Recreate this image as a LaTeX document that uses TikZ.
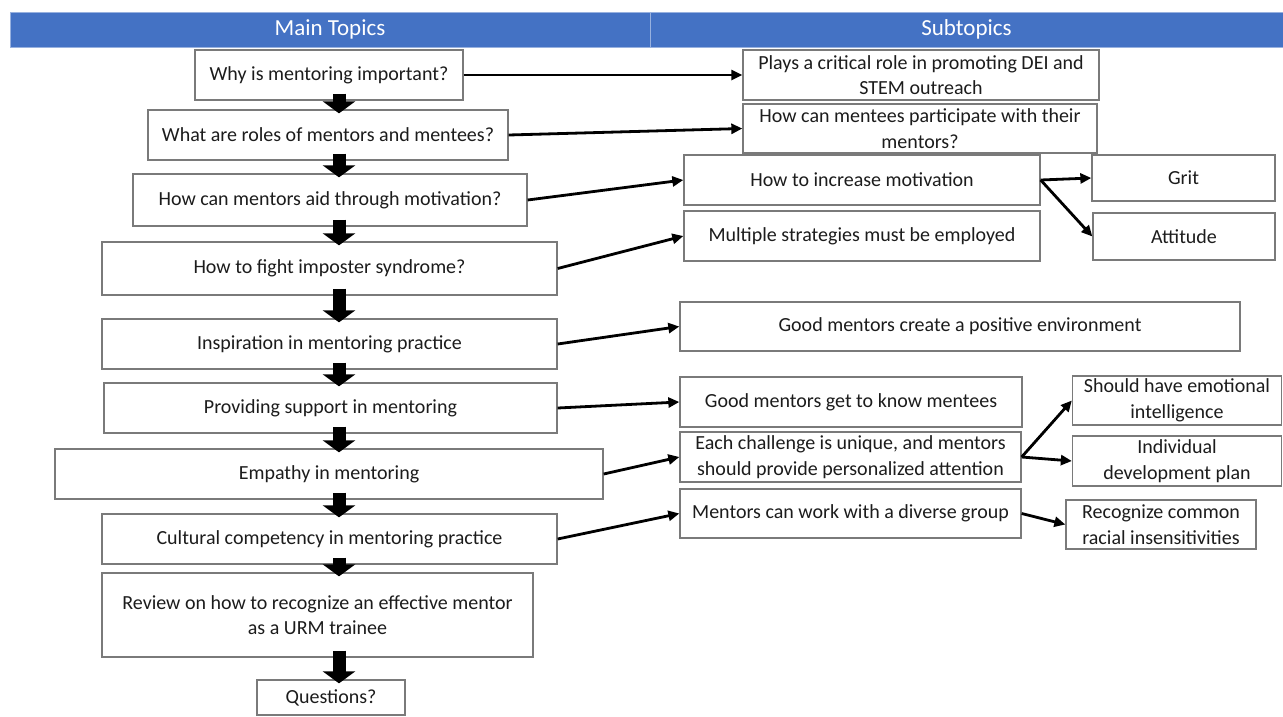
\documentclass[tikz,border=0pt]{standalone}
\usepackage{fontspec}
\setmainfont{Carlito}
\usetikzlibrary{arrows.meta}
\definecolor{hdrblue}{HTML}{4472C4}
\definecolor{boxgray}{HTML}{7A7A7A}
\definecolor{txt}{HTML}{1C1C1C}

\begin{document}
\begin{tikzpicture}[x=1pt,y=-1pt,
  topic/.style={draw=boxgray, line width=1.3pt, fill=white, text=txt, align=center, inner sep=0pt, font=\fontsize{20}{25.5}\selectfont},
  hdr/.style={fill=hdrblue, draw=hdrblue!55!white, line width=0.8pt, text=white, inner sep=0pt, minimum height=35pt, font=\fontsize{23}{26}\selectfont},
  down/.style={line width=13pt, -{Triangle[length=12pt,width=32pt]}},
  link/.style={line width=2.8pt, -{Triangle[length=11pt,width=10pt]}}]
\useasboundingbox (0,0) rectangle (1283,716);
\fill[white] (0,0) rectangle (1283,716);

% header bar
\node[hdr, minimum width=640pt] at (330,29.5) (hl) {Main Topics};
\node[hdr, minimum width=633pt] at (966.5,29.5) (hr) {Subtopics};

% main topics
\node[topic, minimum width=268pt, minimum height=50pt] at (329,75) (a1) {Why is mentoring important?};
\node[topic, minimum width=360pt, minimum height=50pt] at (328,135) (a2) {What are roles of mentors and mentees?};
\node[topic, minimum width=394pt, minimum height=52pt] at (330,200) (a3) {How can mentors aid through motivation?};
\node[topic, minimum width=455pt, minimum height=53pt] at (329.5,268.5) (a4) {How to fight imposter syndrome?};
\node[topic, minimum width=455pt, minimum height=50pt] at (329.5,344) (a5) {Inspiration in mentoring practice};
\node[topic, minimum width=453pt, minimum height=50pt] at (330.5,408) (a6) {Providing support in mentoring};
\node[topic, minimum width=548pt, minimum height=50pt] at (329,474) (a7) {Empathy in mentoring};
\node[topic, minimum width=455pt, minimum height=50pt] at (329.5,539) (a8) {Cultural competency in mentoring practice};
\node[topic, minimum width=431pt, minimum height=84pt] at (317.5,615) (a9) {Review on how to recognize an effective mentor\\as a URM trainee};
\node[topic, minimum width=148pt, minimum height=35pt] at (331,697.5) (a10) {Questions?};

% subtopics
\node[topic, minimum width=356pt, minimum height=50pt] at (921,75) (b1) {Plays a critical role in promoting DEI and\\STEM outreach};
\node[topic, minimum width=354pt, minimum height=49pt] at (920,128.5) (b2) {How can mentees participate with their\\mentors?};
\node[topic, minimum width=356pt, minimum height=50pt] at (862,180) (b3) {How to increase motivation};
\node[topic, minimum width=356pt, minimum height=50pt] at (862,236) (b4) {Multiple strategies must be employed};
\node[topic, minimum width=560pt, minimum height=49pt] at (960,326.5) (b5) {Good mentors create a positive environment};
\node[topic, minimum width=342pt, minimum height=50pt] at (851,402) (b6) {Good mentors get to know mentees};
\node[topic, minimum width=341pt, minimum height=50pt] at (850.5,457) (b7) {Each challenge is unique, and mentors\\should provide personalized attention};
\node[topic, minimum width=341pt, minimum height=49pt] at (850.5,513.5) (b8) {Mentors can work with a diverse group};

% sub-subtopics
\node[topic, minimum width=183pt, minimum height=46pt] at (1183.5,178) (c1) {Grit};
\node[topic, minimum width=182pt, minimum height=47pt] at (1184,236.5) (c2) {Attitude};
\node[topic, minimum width=209pt, minimum height=49pt] at (1177,400.5) (c3) {Should have emotional\\intelligence};
\node[topic, minimum width=209pt, minimum height=50pt] at (1177,461) (c4) {Individual\\development plan};
\node[topic, minimum width=190pt, minimum height=49pt] at (1161,524.5) (c5) {Recognize common\\racial insensitivities};

% block arrows down the main column
\coordinate (ax) at (339,0);
\foreach \u/\v in {a1/a2,a2/a3,a3/a4,a4/a5,a5/a6,a6/a7,a7/a8,a8/a9,a9/a10}
  \draw[down] ([yshift=7pt]\u.south -| ax) -- ([yshift=-4pt]\v.north -| ax);

\path[link]
(a1.east) edge (b1.west)
(a2.east) edge (b2.west)
(a3.east) edge (b3.west)
(a4.east) edge (b4.west)
(a5.east) edge (b5.west)
(a6.east) edge (b6.west)
(a7.east) edge (b7.west)
(a8.east) edge (b8.west)
(b3.east) edge (c1.west)
(b3.east) edge (c2.west)
(b7.east) edge (c3.west)
(b7.east) edge (c4.west)
(b8.east) edge (c5.west)
;
\end{tikzpicture}
\end{document}
